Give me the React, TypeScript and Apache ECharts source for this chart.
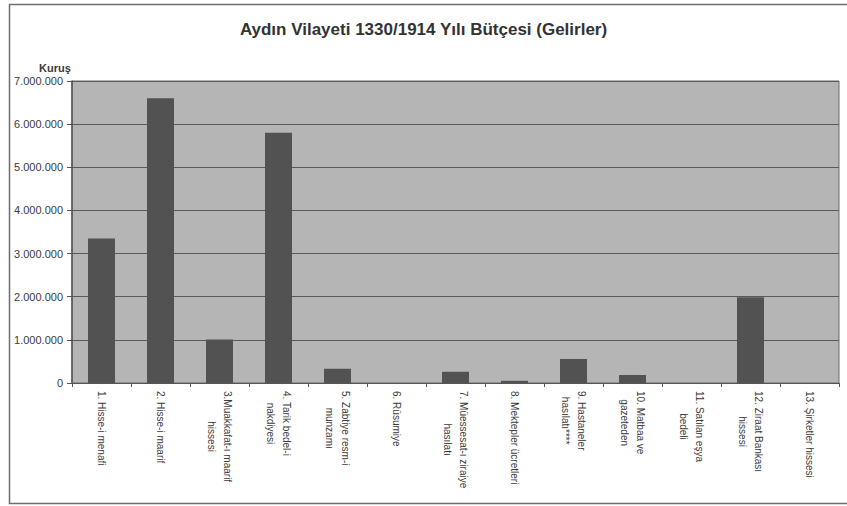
import React, { useEffect, useRef } from "react";
import * as echarts from "echarts";

const TITLE = "Aydın Vilayeti 1330/1914 Yılı Bütçesi (Gelirler)";
const UNIT = "Kuruş";

const categories: string[] = [
  "1. Hisse-i menafi",
  "2. Hisse-i maarif",
  "3.Muakkafat-ı maarif\nhissesi",
  "4. Tarik bedel-i\nnakdiyesi",
  "5. Zabtiye resm-i\nmunzamı",
  "6. Rüsumiye",
  "7. Müessesat-ı ziraiye\nhasılatı",
  "8. Mektepler ücretleri",
  "9. Hastaneler\nhasılatı****",
  "10. Matbaa ve\ngazeteden",
  "11. Satılan eşya\nbedeli",
  "12. Ziraat Bankası\nhissesi",
  "13. Şirketler hissesi",
];

const values: number[] = [
  3350000, 6600000, 1010000, 5800000, 330000, 0, 260000, 50000, 556000,
  185000, 0, 1990000, 0,
];

const yMin = 0;
const yMax = 7000000;
const yStep = 1000000;

const FONT = '"Liberation Sans", Arial, sans-serif';
const XFS = 10;

function fmt(v: number): string {
  return String(Math.round(v)).replace(/\B(?=(\d{3})+(?!\d))/g, ".");
}

export default function App() {
  const ref = useRef<HTMLDivElement>(null);
  useEffect(() => {
    document.body.style.margin = "0";
    if (!ref.current) return;

    const canvas = document.createElement("canvas");
    const ctx = canvas.getContext("2d")!;
    ctx.font = `${XFS}px "Liberation Sans", Arial, sans-serif`;
    const rich: Record<string, any> = {};
    const base = { fontFamily: FONT, fontSize: XFS, color: "#3a3a3a", lineHeight: 16 };
    const labelText: string[] = categories.map((cat, i) => {
      const lines = cat.split("\n");
      const widths = lines.map((l) => ctx.measureText(l).width);
      const maxW = Math.max(...widths);
      return lines
        .map((l, j) => {
          const name = `t${i}_${j}`;
          rich[name] = { ...base, padding: [0, 0, 0, (maxW - widths[j]) / 2] };
          return `{${name}|${l}}`;
        })
        .join("\n");
    });

    const chart = echarts.init(ref.current, undefined, { renderer: "svg" });
    chart.setOption({
      animation: false,
      backgroundColor: "#ffffff",
      title: {
        text: TITLE,
        left: "center",
        top: 21,
        padding: 0,
        textStyle: {
          fontFamily: FONT,
          fontSize: 17,
          fontWeight: "bold",
          color: "#333333",
        },
      },
      graphic: [
        {
          type: "rect",
          shape: { x: 9.5, y: 4.5, width: 900, height: 499 },
          style: { fill: "none", stroke: "#6e6e6e", lineWidth: 1.5 },
          silent: true,
        },
        {
          type: "text",
          x: 39,
          y: 68,
          style: {
            text: UNIT,
            fontFamily: FONT,
            fontSize: 11,
            fontWeight: "bold",
            fill: "#3a3a3a",
            verticalAlign: "middle",
          },
        },
      ],
      grid: {
        left: 72,
        right: 8,
        top: 81,
        bottom: 123,
        show: true,
        backgroundColor: "#b5b5b5",
        borderColor: "#6a6a6a",
        borderWidth: 1,
      },
      xAxis: {
        type: "category",
        data: categories,
        axisLine: { show: true, lineStyle: { color: "#555555", width: 1 } },
        axisTick: {
          show: true,
          alignWithLabel: false,
          length: 4,
          lineStyle: { color: "#555555" },
        },
        axisLabel: {
          interval: 0,
          rotate: -90,
          margin: 8,
          fontFamily: FONT,
          fontSize: XFS,
          color: "#3a3a3a",
          lineHeight: 16,
          formatter: (_v: string, idx: number) => labelText[idx],
          rich,
        },
      },
      yAxis: {
        type: "value",
        min: yMin,
        max: yMax,
        interval: yStep,
        axisLine: { show: true, lineStyle: { color: "#555555", width: 1.5 } },
        axisTick: { show: true, length: 5, lineStyle: { color: "#555555" } },
        splitLine: { show: true, lineStyle: { color: "#5a5a5a", width: 1 } },
        axisLabel: {
          margin: 9,
          fontFamily: FONT,
          fontSize: 11,
          color: "#3a3a3a",
          formatter: (v: number) => fmt(v),
        },
      },
      series: [
        {
          type: "bar",
          data: values,
          barWidth: 27,
          itemStyle: { color: "#525252" },
        },
      ],
    });
    return () => chart.dispose();
  }, []);
  return <div ref={ref} style={{ width: 847, height: 506 }} />;
}
